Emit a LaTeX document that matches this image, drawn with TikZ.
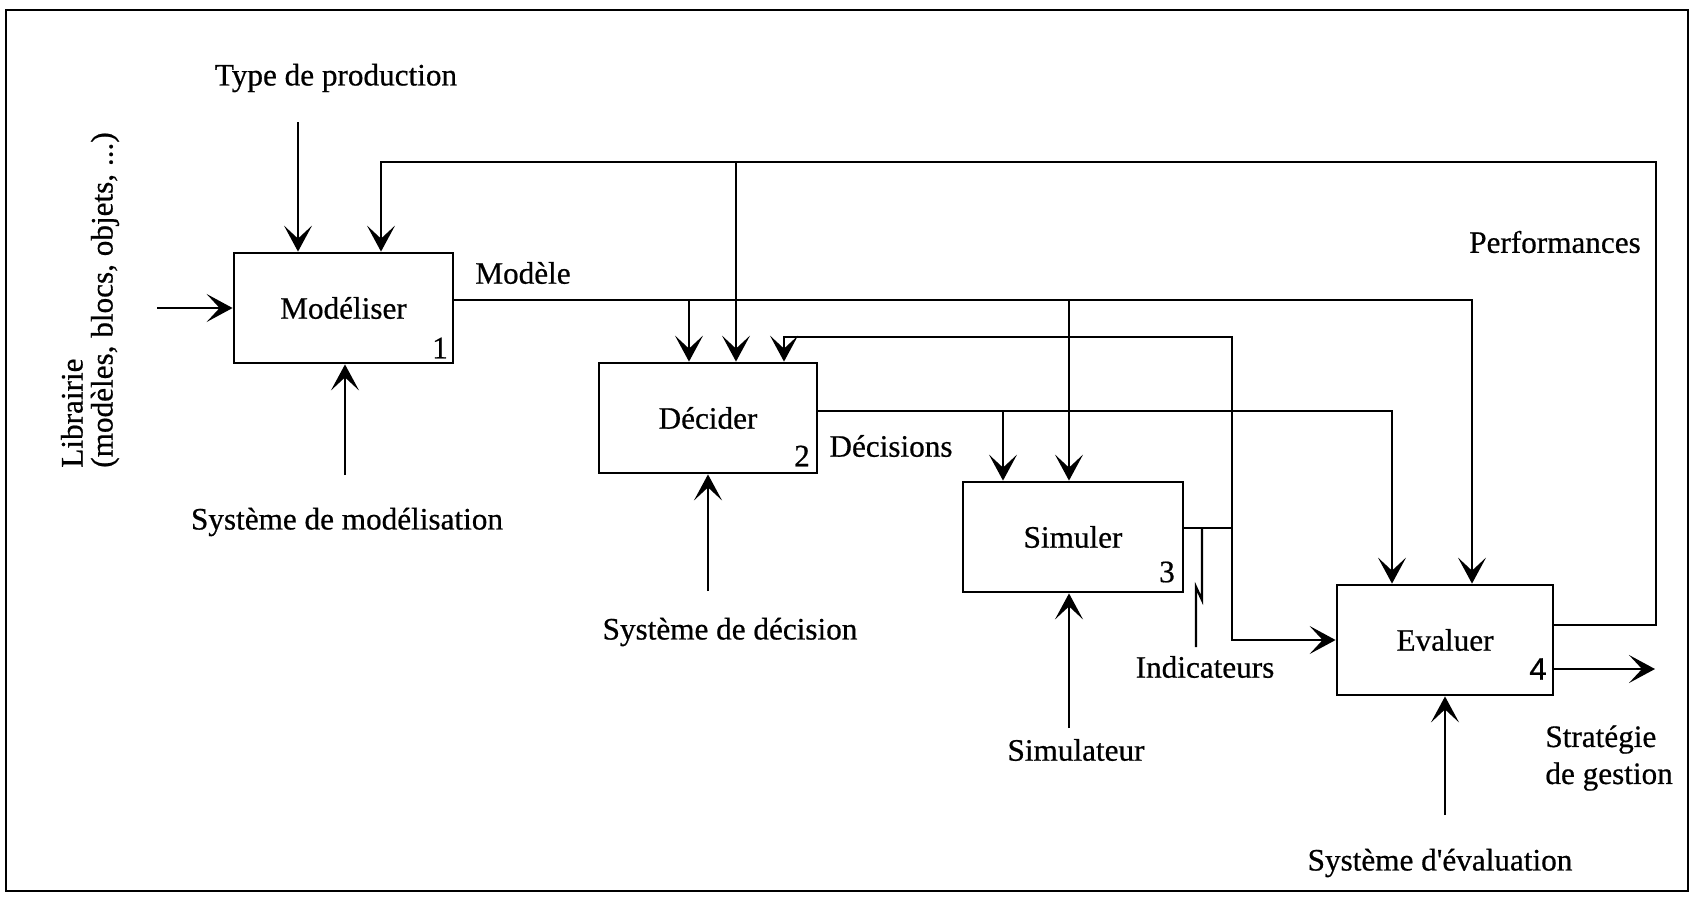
\documentclass[tikz,border=0pt]{standalone}
\usepackage{fontspec}
\setmainfont{Liberation Serif}
\newfontfamily\heavy{Liberation Serif}[FakeBold=0.6]
\newfontfamily\numsans{Liberation Sans}[FakeBold=0.6]
\usetikzlibrary{arrows.meta}
\begin{document}
\begin{tikzpicture}[x=0.5pt,y=-0.5pt,
  font=\heavy\fontsize{15.6pt}{15pt}\selectfont,
  box/.style={draw, line width=1.4pt, inner sep=0pt},
  conn/.style={line width=1.15pt},
  arr/.style={conn, -{Stealth[length=13pt,width=14pt,inset=6.5pt]}},
  lbl/.style={inner sep=0pt},
  num/.style={inner sep=0pt}]
\useasboundingbox (0,0) rectangle (1692,901);
\draw[line width=1.3pt] (6,10) rectangle (1688,891);

% boxes
\node[box, minimum width=109.5pt, minimum height=55pt] (M) at (343.5,308) {Modéliser};
\node[box, minimum width=109pt, minimum height=55pt] (D) at (708,418) {Décider};
\node[box, minimum width=110pt, minimum height=55pt] (S) at (1073,537) {Simuler};
\node[box, minimum width=108pt, minimum height=55pt] (E) at (1445,640) {Evaluer};

\node[num] (n1) at (440,348) {1};
\node[num] (n2) at (802,456) {2};
\node[num] (n3) at (1167,572) {3};
\node[num] (n4) at (1538,669) {\numsans 4};

% labels
\node[lbl] (tp) at (336,78) {Type de production};
\node[lbl, rotate=90, align=left] (lib) at (90,300) {Librairie\\(modèles, blocs, objets, ...)};
\node[lbl] (sm) at (347,522) {Système de modélisation};
\node[lbl] (sd) at (730,632) {Système de décision};
\node[lbl] (sim) at (1076,750) {Simulateur};
\node[lbl] (se) at (1440,863) {Système d\textquotesingle évaluation};
\node[lbl] (mod) at (523,273) {Modèle};
\node[lbl] (dec) at (891,446) {Décisions};
\node[lbl] (perf) at (1555,242) {Performances};
\node[lbl] (ind) at (1205,667) {Indicateurs};
\node[lbl, anchor=west, align=left, font=\heavy\fontsize{15.6pt}{18.5pt}\selectfont] (strat) at (1545,758) {Stratégie\\de gestion};

% external inputs
\coordinate (tpA) at (298,122);
\draw[arr] (tpA) -- (tpA |- M.north);
\coordinate (libA) at (157,308);
\draw[arr] (libA) -- (libA -| M.west);
\coordinate (smA) at (345,475);
\draw[arr] (smA) -- (smA |- M.south);
\coordinate (sdA) at (708,591);
\draw[arr] (sdA) -- (sdA |- D.south);
\coordinate (ssA) at (1069,728);
\draw[arr] (ssA) -- (ssA |- S.south);
\coordinate (seA) at (1445,815);
\draw[arr] (seA) -- (seA |- E.south);

% Modele
\coordinate (mR) at (1472,300);
\coordinate (mD) at (689,300);
\coordinate (mS) at (1069,300);
\draw[arr] (mR -| M.east) -- (mR) -- (mR |- E.north);
\draw[arr] (mD) -- (mD |- D.north);
\draw[arr] (mS) -- (mS |- S.north);

% Decisions
\coordinate (dR) at (1392,411);
\coordinate (dS) at (1003,411);
\draw[arr] (dR -| D.east) -- (dR) -- (dR |- E.north);
\draw[arr] (dS) -- (dS |- S.north);

% Performances feedback
\coordinate (pB) at (1656,625);
\coordinate (pT) at (1656,162);
\coordinate (pM) at (381,162);
\coordinate (pD) at (736,162);
\draw[arr] (pB -| E.east) -- (pB) -- (pT) -- (pM) -- (pM |- M.north);
\draw[arr] (pD) -- (pD |- D.north);

% Simuler output
\coordinate (sJ) at (1232,528);
\coordinate (sT) at (1232,337);
\coordinate (sD) at (784,337);
\coordinate (sB) at (1232,640);
\draw[conn] (sJ -| S.east) -- (sJ);
\draw[arr] (sJ) -- (sT) -- (sD) -- (sD |- D.north);
\draw[arr] (sJ) -- (sB) -- (sB -| E.west);

% Indicateurs leader
\coordinate (iA) at (1202,528);
\coordinate (iB) at (1202,600);
\coordinate (iC) at (1196,587);
\coordinate (iD) at (1196,647);
\draw[conn] (iA) -- (iB) -- (iC) -- (iD);

% Strategie
\coordinate (stR) at (1655,669);
\draw[arr] (stR -| E.east) -- (stR);
\end{tikzpicture}
\end{document}
